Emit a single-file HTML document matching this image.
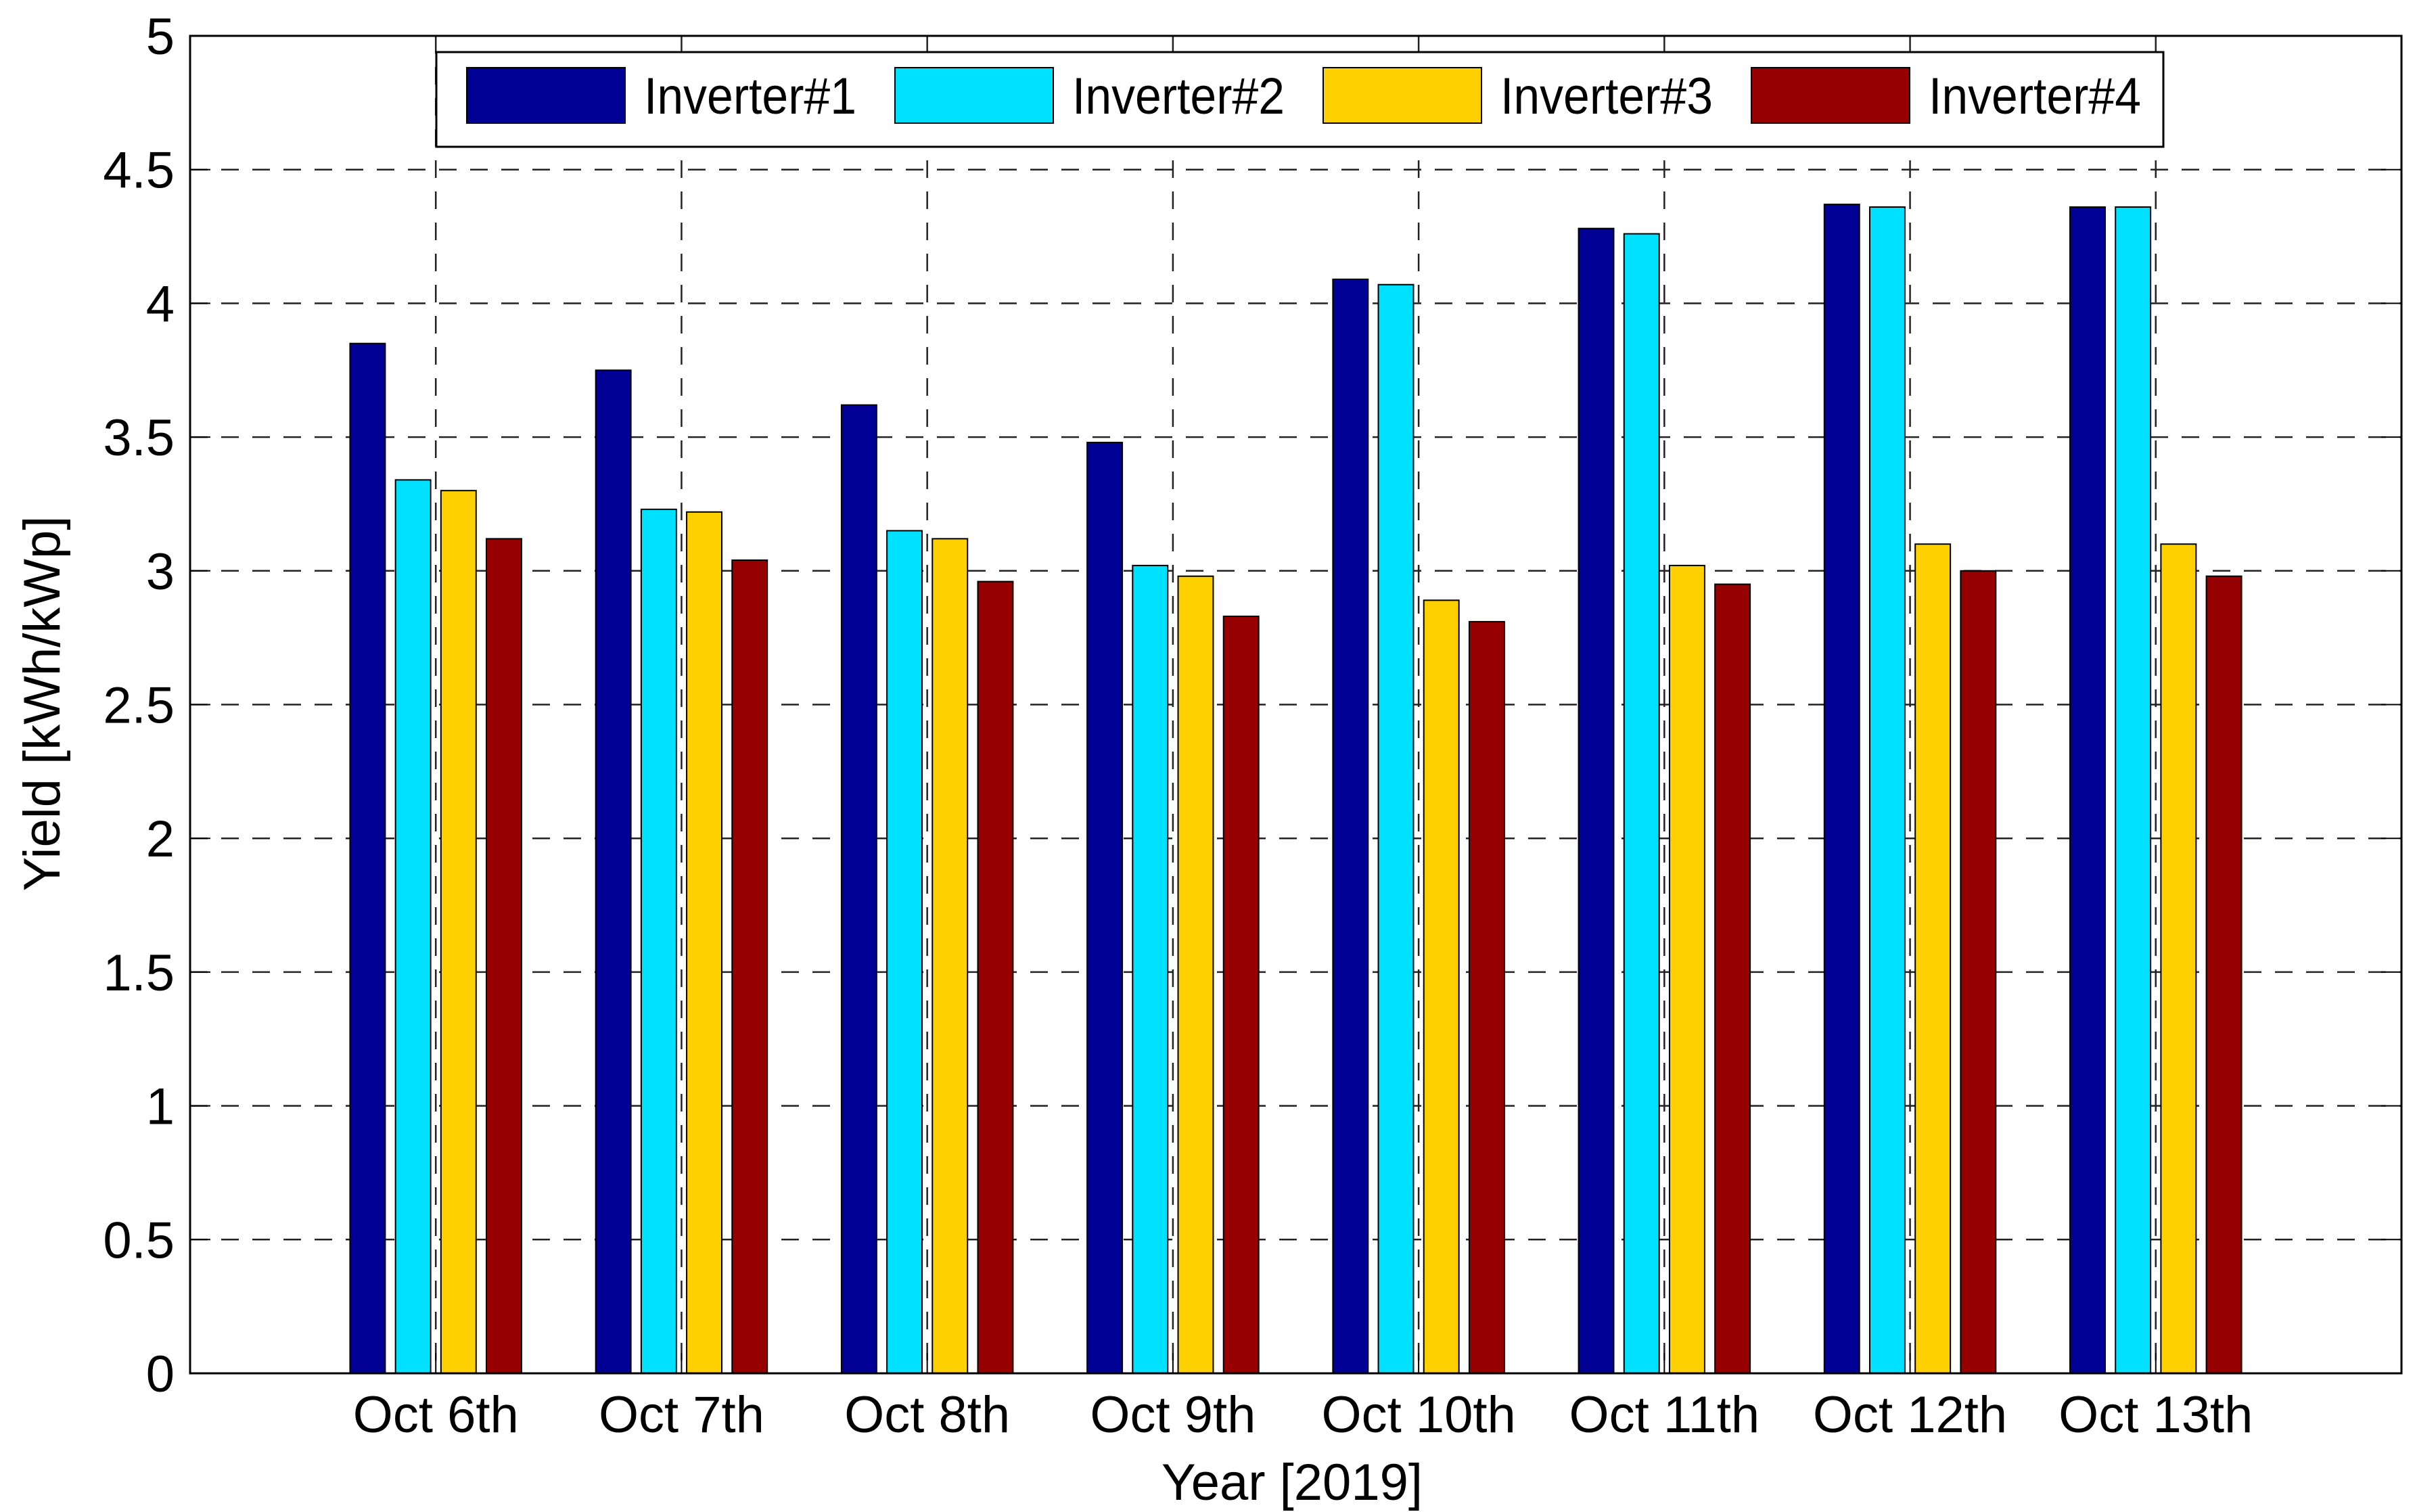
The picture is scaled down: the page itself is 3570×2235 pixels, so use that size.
<!DOCTYPE html>
<html><head><meta charset="utf-8"><style>
html,body{margin:0;padding:0;background:#fff;}
svg{display:block;font-family:"Liberation Sans",Arial,sans-serif;}
</style></head><body>
<svg id="chart" width="3570" height="2235" viewBox="0 0 3570 2235" xmlns="http://www.w3.org/2000/svg"></svg>
<script>
const categories = ["Oct 6th","Oct 7th","Oct 8th","Oct 9th","Oct 10th","Oct 11th","Oct 12th","Oct 13th"];
const seriesNames = ["Inverter#1","Inverter#2","Inverter#3","Inverter#4"];
const inverter1 = [3.85,3.75,3.62,3.48,4.09,4.28,4.37,4.36];
const inverter2 = [3.34,3.23,3.15,3.02,4.07,4.26,4.36,4.36];
const inverter3 = [3.30,3.22,3.12,2.98,2.89,3.02,3.10,3.10];
const inverter4 = [3.12,3.04,2.96,2.83,2.81,2.95,3.00,2.98];
const yTicks = [0,0.5,1,1.5,2,2.5,3,3.5,4,4.5,5];
const yTickLabels = ["0","0.5","1","1.5","2","2.5","3","3.5","4","4.5","5"];

const series = [inverter1,inverter2,inverter3,inverter4];
const colors = ["#000094","#00e1ff","#ffd000","#960000"];
const L=281,R=3550,T=53,B=2030;
const xMin=0,xMax=categories.length+1,yMin=0,yMax=5;
const xs=v=>L+(v-xMin)/(xMax-xMin)*(R-L);
const ys=v=>B-(v-yMin)/(yMax-yMin)*(B-T);
const svg=document.getElementById('chart');
const NS="http://www.w3.org/2000/svg";
function mk(tag,attrs,parent){const e=document.createElementNS(NS,tag);for(const k in attrs)e.setAttribute(k,attrs[k]);(parent||svg).appendChild(e);return e;}

// grid
const grid=mk('g',{});


yTicks.forEach(t=>{ if(t>yMin&&t<yMax){
  const l=mk('line',{x1:L,x2:R,y1:ys(t),y2:ys(t),stroke:'#222','stroke-width':2.5,'stroke-dasharray':'26,20'},grid);
  
  
}});
categories.forEach((c,i)=>{
  const l=mk('line',{x1:xs(i+1),x2:xs(i+1),y1:T,y2:B,stroke:'#222','stroke-width':2.5,'stroke-dasharray':'26,20'},grid);
  
  
});

// bars
const step=(xs(1)-xs(0))*0.185, bw=(xs(1)-xs(0))*0.143;
const bars=mk('g',{});


series.forEach((s,si)=>{
  s.forEach((v,i)=>{
    const cx=xs(i+1)+(si-1.5)*step;
    const r=mk('rect',{x:cx-bw/2,y:ys(v),width:bw,height:ys(0)-ys(v),fill:colors[si],stroke:'#000','stroke-width':2},bars);
    
    
  });
});

// axes box
const ax=mk('rect',{x:L,y:T,width:R-L,height:B-T,fill:'none',stroke:'#000','stroke-width':3});



// y ticks
yTicks.forEach((t,i)=>{
  mk('line',{x1:L,x2:L+30,y1:ys(t),y2:ys(t),stroke:'#000','stroke-width':2});
  mk('line',{x1:R,x2:R-30,y1:ys(t),y2:ys(t),stroke:'#000','stroke-width':2});
  const tx=mk('text',{x:258,y:ys(t)+27,'text-anchor':'end','font-size':76},null);
  tx.textContent=yTickLabels[i];
  
  
});
// x labels
categories.forEach((c,i)=>{
  mk('line',{x1:xs(i+1),x2:xs(i+1),y1:B,y2:B-30,stroke:'#000','stroke-width':2});
  const tx=mk('text',{x:xs(i+1),y:2117,'text-anchor':'middle','font-size':76});
  tx.textContent=c;
  
  
});
const xt=mk('text',{x:1910,y:2217,'text-anchor':'middle','font-size':76});
xt.textContent="Year [2019]";


const yt=mk('text',{x:0,y:0,'text-anchor':'middle','font-size':76,transform:'translate(88,1040) rotate(-90)'});
yt.textContent="Yield [kWh/kWp]";



// legend
const lg=mk('g',{});


mk('rect',{x:645,y:77,width:2553,height:140,fill:'#fff',stroke:'#000','stroke-width':3},lg);
seriesNames.forEach((n,i)=>{
  const x0=690+i*633;
  const e=mk('g',{},lg);
  
  
  mk('rect',{x:x0,y:100,width:234,height:82,fill:colors[i],stroke:'#000','stroke-width':2},e);
  const t=mk('text',{x:x0+262,y:168,'font-size':76,textLength:314,lengthAdjust:'spacingAndGlyphs'},e);
  t.textContent=n;
});
</script>
</body></html>
